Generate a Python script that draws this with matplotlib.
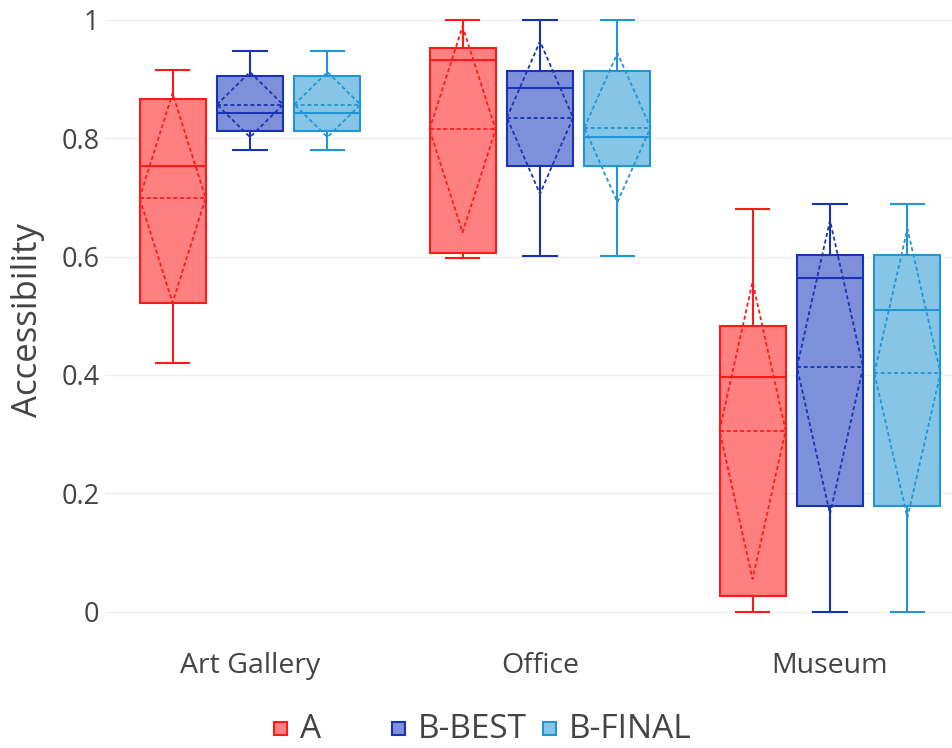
import numpy as np
import matplotlib.pyplot as plt
from matplotlib.patches import Rectangle

plt.rcParams['font.family'] = ['Open Sans', 'DejaVu Sans']

# categories and series
categories = ['Art Gallery', 'Office', 'Museum']
series = ['A', 'B-BEST', 'B-FINAL']

# box statistics, one list per series (per category)
lows = {'A': [0.420, 0.597, 0.000],
        'B-BEST': [0.781, 0.601, 0.000],
        'B-FINAL': [0.781, 0.601, 0.000]}
q1s = {'A': [0.522, 0.606, 0.026],
       'B-BEST': [0.813, 0.753, 0.178],
       'B-FINAL': [0.813, 0.753, 0.178]}
medians = {'A': [0.754, 0.933, 0.396],
           'B-BEST': [0.842, 0.885, 0.563],
           'B-FINAL': [0.842, 0.803, 0.510]}
q3s = {'A': [0.866, 0.953, 0.482],
       'B-BEST': [0.906, 0.914, 0.603],
       'B-FINAL': [0.906, 0.914, 0.603]}
highs = {'A': [0.916, 1.000, 0.681],
         'B-BEST': [0.948, 1.000, 0.689],
         'B-FINAL': [0.948, 1.000, 0.689]}
means = {'A': [0.699, 0.815, 0.306],
         'B-BEST': [0.857, 0.835, 0.413],
         'B-FINAL': [0.857, 0.818, 0.403]}
sds = {'A': [0.177, 0.174, 0.251],
       'B-BEST': [0.055, 0.129, 0.248],
       'B-FINAL': [0.055, 0.126, 0.244]}

yticks = [0, 0.2, 0.4, 0.6, 0.8, 1.0]
ytick_labels = ['0', '0.2', '0.4', '0.6', '0.8', '1']

line_colors = {'A': '#ff1a1a', 'B-BEST': '#1a33b3', 'B-FINAL': '#2196d6'}
fill_colors = {'A': '#ff8080', 'B-BEST': '#7f90da', 'B-FINAL': '#86c5e6'}
offsets = {'A': -0.267, 'B-BEST': 0.0, 'B-FINAL': 0.267}
width = 0.228
text_color = '#444444'

W, H = 953, 748
fig = plt.figure(figsize=(W / 100, H / 100), dpi=100)
ax = fig.add_axes([105 / W, 1 - 635 / H, 1 - 105 / W, 630 / H])

x = np.arange(len(categories))
for s in series:
    stats = []
    for i in range(len(categories)):
        stats.append({'med': medians[s][i], 'q1': q1s[s][i], 'q3': q3s[s][i],
                      'whislo': lows[s][i], 'whishi': highs[s][i],
                      'mean': means[s][i], 'fliers': []})
    lc = line_colors[s]
    pos = x + offsets[s]
    ax.bxp(stats, positions=pos, widths=width, capwidths=width / 2,
           patch_artist=True, showfliers=False, showmeans=False,
           boxprops=dict(facecolor=fill_colors[s], edgecolor=lc, linewidth=1.5),
           medianprops=dict(color=lc, linewidth=1.5),
           whiskerprops=dict(color=lc, linewidth=1.5),
           capprops=dict(color=lc, linewidth=1.5),
           zorder=3)
    # mean line and sd diamond
    for i, p in enumerate(pos):
        m = means[s][i]
        sd = sds[s][i]
        ax.plot([p - width / 2, p + width / 2], [m, m], color=lc, lw=1.3,
                ls=(0, (2.2, 1.5)), zorder=4)
        ax.plot([p - width / 2, p, p + width / 2, p, p - width / 2],
                [m, m + sd, m, m - sd, m], color=lc, lw=1.3,
                ls=(0, (2.2, 1.5)), zorder=4)

ax.set_xlim(-0.5, (953 - 250) / 290)
ax.set_ylim((611.5 - 635) / 591.5, (611.5 - 5) / 591.5)
ax.set_xticks(x)
ax.set_xticklabels(categories, fontsize=20.5, color=text_color)
ax.set_yticks(yticks)
ax.set_yticklabels(ytick_labels, fontsize=19.5, color=text_color)
ax.tick_params(axis='both', length=0)
ax.tick_params(axis='x', pad=12)
ax.tick_params(axis='y', pad=4)
ax.grid(axis='y', color='#eeeeee', lw=1, zorder=0)
ax.set_axisbelow(True)
for sp in ax.spines.values():
    sp.set_visible(False)
ax.set_ylabel('Accessibility', fontsize=25, color=text_color, labelpad=12)

# legend along the bottom
leg_x = [274, 392, 543]
for s, lx in zip(series, leg_x):
    fig.add_artist(Rectangle((lx / W, 1 - 735 / H), 13 / W, 13 / H,
                             facecolor=fill_colors[s], edgecolor=line_colors[s],
                             lw=1.5, transform=fig.transFigure))
    fig.text((lx + 26) / W, 1 - 729 / H, s, fontsize=24, color=text_color,
             va='center', ha='left')

fig.savefig('out.png', dpi=100)
